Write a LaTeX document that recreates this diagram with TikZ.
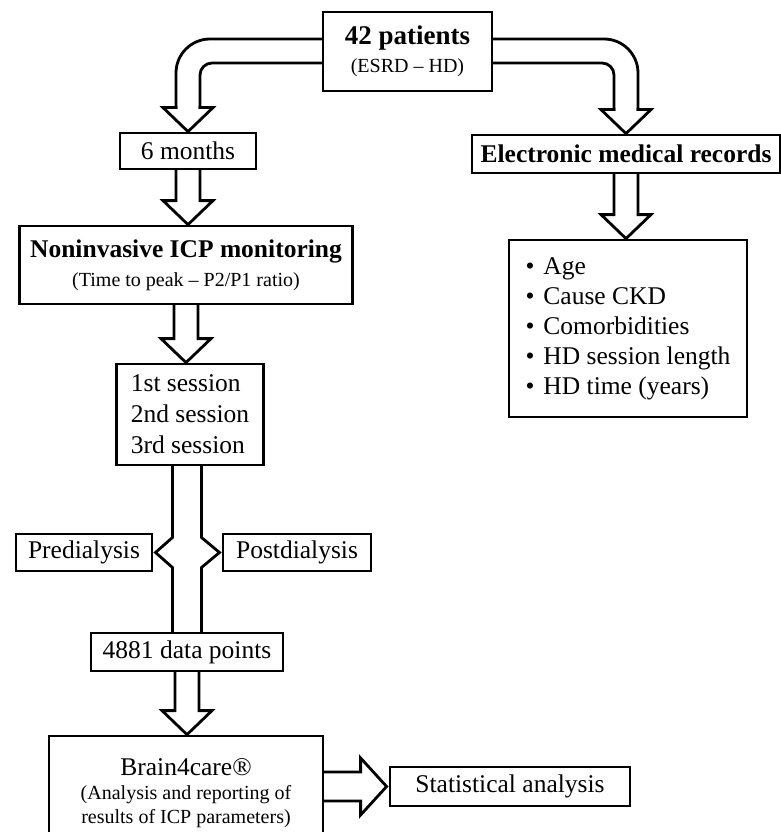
\documentclass[tikz,border=0pt]{standalone}
\usepackage{fontspec}
\setmainfont{Liberation Serif}
\usepackage{tikz}
\usetikzlibrary{calc,positioning}
\newcommand{\hollowdown}[2]{%
  \draw[blockline] let \p1=(#1.south), \p2=(#2.north) in
    (\x1-12pt,\y1) -- (\x1-12pt,\y2+24pt) -- (\x1-25pt,\y2+24pt) -- (\x1,\y2)
    -- (\x1+25pt,\y2+24pt) -- (\x1+12pt,\y2+24pt) -- (\x1+12pt,\y1);}

\begin{document}
\begin{tikzpicture}[
    x=1pt, y=-1pt,
    flowbox/.style={draw, line width=2.8pt, inner sep=0pt, align=center, font=\fontsize{25.5}{30}\selectfont},
    listbox/.style={flowbox, align=left},
    blockline/.style={line width=2.8pt, line cap=rect, line join=miter}
]
    \useasboundingbox (0,0) rectangle (781,832);
    \clip (0,0) rectangle (781,832);

    % Top
    \node[flowbox, minimum width=169pt, minimum height=79pt, font=\fontsize{20}{28}\selectfont] (pat) at (407.5,51.5)
        {{\fontsize{27}{28}\selectfont\bfseries 42 patients}\\(ESRD -- HD)};

    % Left column
    \node[flowbox, minimum width=136pt, minimum height=36pt] (mon) at (188,151) {6 months};
    \node[flowbox, minimum width=333pt, minimum height=78pt, font=\fontsize{20}{29}\selectfont] (nicp) at (186,265)
        {{\fontsize{25.5}{29}\selectfont\bfseries Noninvasive ICP monitoring}\\(Time to peak -- P2/P1 ratio)};
    \node[listbox, minimum width=147pt, minimum height=101pt, font=\fontsize{25.5}{31}\selectfont] (sess) at (190,414.5)
        {1st session\\2nd session\\3rd session};
    \node[flowbox, minimum width=136pt, minimum height=37pt] (pre) at (84,552.5) {Predialysis};
    \node[flowbox, minimum width=148pt, minimum height=37pt] (post) at (297,552.5) {Postdialysis};
    \node[flowbox, minimum width=192pt, minimum height=38pt] (dat) at (187,652) {4881 data points};
    \node[flowbox, minimum width=274pt, minimum height=114pt, font=\fontsize{20}{24}\selectfont] (brain) at (186,793)
        {{\fontsize{25.5}{28}\selectfont Brain4care®}\\(Analysis and reporting of\\results of ICP parameters)};
    \node[flowbox, minimum width=240pt, minimum height=39pt] (stat) at (510,786.5) {Statistical analysis};

    % Right column
    \node[flowbox, minimum width=308pt, minimum height=38pt, font=\fontsize{25.5}{30}\selectfont\bfseries] (emr) at (626,154)
        {Electronic medical records};
    \node[listbox, minimum width=238pt, minimum height=177pt] (rec) at (628,328.5)
        {\makebox[18pt][l]{\textbullet}Age\\
         \makebox[18pt][l]{\textbullet}Cause CKD\\
         \makebox[18pt][l]{\textbullet}Comorbidities\\
         \makebox[18pt][l]{\textbullet}HD session length\\
         \makebox[18pt][l]{\textbullet}HD time (years)};

    % Bent arrows from the top box
    \draw[blockline, rounded corners=34pt] ($(pat.west)+(0,-12.5)$) -| ($(mon.north)+(-12,-24)$);
    \draw[blockline, rounded corners=12pt] ($(pat.west)+(0,11.5)$) -| ($(mon.north)+(12,-24)$);
    \draw[blockline] ($(mon.north)+(-12,-24)$) -- ++(-13,0) -- (mon.north) -- ++(25,-24) -- ++(-13,0);
    \draw[blockline, rounded corners=34pt] ($(pat.east)+(0,-12.5)$) -| ($(emr.north)+(12,-24)$);
    \draw[blockline, rounded corners=12pt] ($(pat.east)+(0,11.5)$) -| ($(emr.north)+(-12,-24)$);
    \draw[blockline] ($(emr.north)+(-12,-24)$) -- ++(-13,0) -- (emr.north) -- ++(25,-24) -- ++(-13,0);

    % Straight arrows
    \hollowdown{mon}{nicp}
    \hollowdown{nicp}{sess}
    \hollowdown{emr}{rec}
    \hollowdown{dat}{brain}

    % Shaft with side heads
    \draw[blockline] let \p1=(sess.south), \p2=(dat.north), \p3=(pre.east) in
        (\x2-14.5pt,\y1) -- (\x2-14.5pt,\y3+15pt) -- (\x2-31.5pt,\y3) -- (\x2-14.5pt,\y3-15pt) -- (\x2-14.5pt,\y2)
        (\x2+14.5pt,\y1) -- (\x2+14.5pt,\y3+15pt) -- (\x2+32.5pt,\y3) -- (\x2+14.5pt,\y3-15pt) -- (\x2+14.5pt,\y2);

    % Arrow to the statistics
    \draw[blockline] let \p1=(brain.east), \p2=(stat.west) in
        (\x1,\y2+14.5pt) -- (\x2-28pt,\y2+14.5pt) -- (\x2-28pt,\y2+28.5pt) -- (\x2-2pt,\y2)
        -- (\x2-28pt,\y2-28.5pt) -- (\x2-28pt,\y2-14.5pt) -- (\x1,\y2-14.5pt);

\end{tikzpicture}
\end{document}
